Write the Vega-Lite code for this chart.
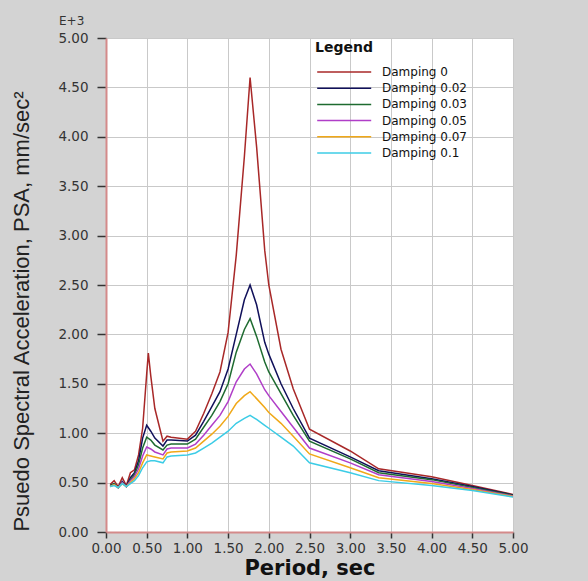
{
"$schema": "https://vega.github.io/schema/vega-lite/v6.json",
"autosize": {"type": "none"},
"width": 407,
"height": 494,
"padding": {"left": 106, "top": 38, "right": 75, "bottom": 49},
"background": "#d3d3d3",
"view": {"fill": "white", "stroke": null},
"title": {"text": "E+3", "anchor": "start", "frame": "group", "dx": -47, "offset": 3, "font": "DejaVu Sans", "fontSize": 12, "fontWeight": "normal", "color": "#333"},
"datasets": {
"psa": [
{"t":0.05,"s":"Damping 0","v":0.48},{"t":0.05,"s":"Damping 0.02","v":0.47},{"t":0.05,"s":"Damping 0.03","v":0.47},{"t":0.05,"s":"Damping 0.05","v":0.46},{"t":0.05,"s":"Damping 0.07","v":0.46},{"t":0.05,"s":"Damping 0.1","v":0.46},
{"t":0.1,"s":"Damping 0","v":0.52},{"t":0.1,"s":"Damping 0.02","v":0.49},{"t":0.1,"s":"Damping 0.03","v":0.49},{"t":0.1,"s":"Damping 0.05","v":0.48},{"t":0.1,"s":"Damping 0.07","v":0.48},{"t":0.1,"s":"Damping 0.1","v":0.47},
{"t":0.15,"s":"Damping 0","v":0.46},{"t":0.15,"s":"Damping 0.02","v":0.45},{"t":0.15,"s":"Damping 0.03","v":0.45},{"t":0.15,"s":"Damping 0.05","v":0.45},{"t":0.15,"s":"Damping 0.07","v":0.45},{"t":0.15,"s":"Damping 0.1","v":0.45},
{"t":0.2,"s":"Damping 0","v":0.55},{"t":0.2,"s":"Damping 0.02","v":0.51},{"t":0.2,"s":"Damping 0.03","v":0.5},{"t":0.2,"s":"Damping 0.05","v":0.5},{"t":0.2,"s":"Damping 0.07","v":0.49},{"t":0.2,"s":"Damping 0.1","v":0.49},
{"t":0.25,"s":"Damping 0","v":0.47},{"t":0.25,"s":"Damping 0.02","v":0.46},{"t":0.25,"s":"Damping 0.03","v":0.46},{"t":0.25,"s":"Damping 0.05","v":0.46},{"t":0.25,"s":"Damping 0.07","v":0.46},{"t":0.25,"s":"Damping 0.1","v":0.46},
{"t":0.3,"s":"Damping 0","v":0.6},{"t":0.3,"s":"Damping 0.02","v":0.55},{"t":0.3,"s":"Damping 0.03","v":0.53},{"t":0.3,"s":"Damping 0.05","v":0.52},{"t":0.3,"s":"Damping 0.07","v":0.5},{"t":0.3,"s":"Damping 0.1","v":0.49},
{"t":0.35,"s":"Damping 0","v":0.63},{"t":0.35,"s":"Damping 0.02","v":0.6},{"t":0.35,"s":"Damping 0.03","v":0.58},{"t":0.35,"s":"Damping 0.05","v":0.56},{"t":0.35,"s":"Damping 0.07","v":0.54},{"t":0.35,"s":"Damping 0.1","v":0.52},
{"t":0.4,"s":"Damping 0","v":0.78},{"t":0.4,"s":"Damping 0.02","v":0.72},{"t":0.4,"s":"Damping 0.03","v":0.68},{"t":0.4,"s":"Damping 0.05","v":0.64},{"t":0.4,"s":"Damping 0.07","v":0.6},{"t":0.4,"s":"Damping 0.1","v":0.57},
{"t":0.45,"s":"Damping 0","v":1.05},{"t":0.45,"s":"Damping 0.02","v":0.95},{"t":0.45,"s":"Damping 0.03","v":0.85},{"t":0.45,"s":"Damping 0.05","v":0.77},{"t":0.45,"s":"Damping 0.07","v":0.7},{"t":0.45,"s":"Damping 0.1","v":0.65},
{"t":0.5,"s":"Damping 0","v":1.6},{"t":0.5,"s":"Damping 0.02","v":1.08},{"t":0.5,"s":"Damping 0.03","v":0.96},{"t":0.5,"s":"Damping 0.05","v":0.86},{"t":0.5,"s":"Damping 0.07","v":0.78},{"t":0.5,"s":"Damping 0.1","v":0.71},
{"t":0.52,"s":"Damping 0","v":1.81},
{"t":0.55,"s":"Damping 0","v":1.58},{"t":0.55,"s":"Damping 0.02","v":1.02},{"t":0.55,"s":"Damping 0.03","v":0.93},{"t":0.55,"s":"Damping 0.05","v":0.84},{"t":0.55,"s":"Damping 0.07","v":0.77},{"t":0.55,"s":"Damping 0.1","v":0.72},
{"t":0.6,"s":"Damping 0","v":1.25},{"t":0.6,"s":"Damping 0.02","v":0.95},{"t":0.6,"s":"Damping 0.03","v":0.88},{"t":0.6,"s":"Damping 0.05","v":0.81},{"t":0.6,"s":"Damping 0.07","v":0.76},{"t":0.6,"s":"Damping 0.1","v":0.72},
{"t":0.7,"s":"Damping 0","v":0.92},{"t":0.7,"s":"Damping 0.02","v":0.87},{"t":0.7,"s":"Damping 0.03","v":0.83},{"t":0.7,"s":"Damping 0.05","v":0.78},{"t":0.7,"s":"Damping 0.07","v":0.74},{"t":0.7,"s":"Damping 0.1","v":0.7},
{"t":0.75,"s":"Damping 0","v":0.97},{"t":0.75,"s":"Damping 0.02","v":0.93},{"t":0.75,"s":"Damping 0.03","v":0.88},{"t":0.75,"s":"Damping 0.05","v":0.84},{"t":0.75,"s":"Damping 0.07","v":0.8},{"t":0.75,"s":"Damping 0.1","v":0.76},
{"t":0.8,"s":"Damping 0","v":0.96},{"t":0.8,"s":"Damping 0.02","v":0.93},{"t":0.8,"s":"Damping 0.03","v":0.89},{"t":0.8,"s":"Damping 0.05","v":0.85},{"t":0.8,"s":"Damping 0.07","v":0.81},{"t":0.8,"s":"Damping 0.1","v":0.77},
{"t":1.0,"s":"Damping 0","v":0.94},{"t":1.0,"s":"Damping 0.02","v":0.92},{"t":1.0,"s":"Damping 0.03","v":0.89},{"t":1.0,"s":"Damping 0.05","v":0.85},{"t":1.0,"s":"Damping 0.07","v":0.82},{"t":1.0,"s":"Damping 0.1","v":0.78},
{"t":1.1,"s":"Damping 0","v":1.02},{"t":1.1,"s":"Damping 0.02","v":0.98},{"t":1.1,"s":"Damping 0.03","v":0.94},{"t":1.1,"s":"Damping 0.05","v":0.89},{"t":1.1,"s":"Damping 0.07","v":0.85},{"t":1.1,"s":"Damping 0.1","v":0.8},
{"t":1.2,"s":"Damping 0","v":1.2},{"t":1.2,"s":"Damping 0.02","v":1.12},{"t":1.2,"s":"Damping 0.03","v":1.06},{"t":1.2,"s":"Damping 0.05","v":0.98},{"t":1.2,"s":"Damping 0.07","v":0.92},{"t":1.2,"s":"Damping 0.1","v":0.85},
{"t":1.3,"s":"Damping 0","v":1.4},{"t":1.3,"s":"Damping 0.02","v":1.27},{"t":1.3,"s":"Damping 0.03","v":1.18},{"t":1.3,"s":"Damping 0.05","v":1.08},{"t":1.3,"s":"Damping 0.07","v":0.99},{"t":1.3,"s":"Damping 0.1","v":0.9},
{"t":1.4,"s":"Damping 0","v":1.62},{"t":1.4,"s":"Damping 0.02","v":1.42},{"t":1.4,"s":"Damping 0.03","v":1.32},{"t":1.4,"s":"Damping 0.05","v":1.18},{"t":1.4,"s":"Damping 0.07","v":1.07},{"t":1.4,"s":"Damping 0.1","v":0.96},
{"t":1.5,"s":"Damping 0","v":2.02},{"t":1.5,"s":"Damping 0.02","v":1.65},{"t":1.5,"s":"Damping 0.03","v":1.5},{"t":1.5,"s":"Damping 0.05","v":1.32},{"t":1.5,"s":"Damping 0.07","v":1.17},{"t":1.5,"s":"Damping 0.1","v":1.02},
{"t":1.6,"s":"Damping 0","v":2.8},{"t":1.6,"s":"Damping 0.02","v":2.0},{"t":1.6,"s":"Damping 0.03","v":1.82},{"t":1.6,"s":"Damping 0.05","v":1.52},{"t":1.6,"s":"Damping 0.07","v":1.3},{"t":1.6,"s":"Damping 0.1","v":1.1},
{"t":1.7,"s":"Damping 0","v":3.8},{"t":1.7,"s":"Damping 0.02","v":2.35},{"t":1.7,"s":"Damping 0.03","v":2.05},{"t":1.7,"s":"Damping 0.05","v":1.65},{"t":1.7,"s":"Damping 0.07","v":1.38},{"t":1.7,"s":"Damping 0.1","v":1.15},
{"t":1.77,"s":"Damping 0","v":4.6},{"t":1.77,"s":"Damping 0.02","v":2.5},{"t":1.77,"s":"Damping 0.03","v":2.16},{"t":1.77,"s":"Damping 0.05","v":1.7},{"t":1.77,"s":"Damping 0.07","v":1.42},{"t":1.77,"s":"Damping 0.1","v":1.18},
{"t":1.85,"s":"Damping 0","v":3.9},{"t":1.85,"s":"Damping 0.02","v":2.3},{"t":1.85,"s":"Damping 0.03","v":1.98},{"t":1.85,"s":"Damping 0.05","v":1.6},{"t":1.85,"s":"Damping 0.07","v":1.35},{"t":1.85,"s":"Damping 0.1","v":1.14},
{"t":1.95,"s":"Damping 0","v":2.85},{"t":1.95,"s":"Damping 0.02","v":1.92},{"t":1.95,"s":"Damping 0.03","v":1.72},{"t":1.95,"s":"Damping 0.05","v":1.44},{"t":1.95,"s":"Damping 0.07","v":1.26},{"t":1.95,"s":"Damping 0.1","v":1.08},
{"t":2.0,"s":"Damping 0","v":2.5},{"t":2.0,"s":"Damping 0.02","v":1.8},{"t":2.0,"s":"Damping 0.03","v":1.62},{"t":2.0,"s":"Damping 0.05","v":1.38},{"t":2.0,"s":"Damping 0.07","v":1.21},{"t":2.0,"s":"Damping 0.1","v":1.05},
{"t":2.15,"s":"Damping 0","v":1.85},{"t":2.15,"s":"Damping 0.02","v":1.5},{"t":2.15,"s":"Damping 0.03","v":1.4},{"t":2.15,"s":"Damping 0.05","v":1.22},{"t":2.15,"s":"Damping 0.07","v":1.1},{"t":2.15,"s":"Damping 0.1","v":0.96},
{"t":2.3,"s":"Damping 0","v":1.45},{"t":2.3,"s":"Damping 0.02","v":1.25},{"t":2.3,"s":"Damping 0.03","v":1.18},{"t":2.3,"s":"Damping 0.05","v":1.06},{"t":2.3,"s":"Damping 0.07","v":0.97},{"t":2.3,"s":"Damping 0.1","v":0.87},
{"t":2.5,"s":"Damping 0","v":1.04},{"t":2.5,"s":"Damping 0.02","v":0.95},{"t":2.5,"s":"Damping 0.03","v":0.92},{"t":2.5,"s":"Damping 0.05","v":0.85},{"t":2.5,"s":"Damping 0.07","v":0.79},{"t":2.5,"s":"Damping 0.1","v":0.7},
{"t":3.0,"s":"Damping 0","v":0.82},{"t":3.0,"s":"Damping 0.02","v":0.76},{"t":3.0,"s":"Damping 0.03","v":0.74},{"t":3.0,"s":"Damping 0.05","v":0.7},{"t":3.0,"s":"Damping 0.07","v":0.65},{"t":3.0,"s":"Damping 0.1","v":0.6},
{"t":3.35,"s":"Damping 0","v":0.64},{"t":3.35,"s":"Damping 0.02","v":0.62},{"t":3.35,"s":"Damping 0.03","v":0.6},{"t":3.35,"s":"Damping 0.05","v":0.58},{"t":3.35,"s":"Damping 0.07","v":0.55},{"t":3.35,"s":"Damping 0.1","v":0.52},
{"t":4.0,"s":"Damping 0","v":0.56},{"t":4.0,"s":"Damping 0.02","v":0.54},{"t":4.0,"s":"Damping 0.03","v":0.53},{"t":4.0,"s":"Damping 0.05","v":0.51},{"t":4.0,"s":"Damping 0.07","v":0.49},{"t":4.0,"s":"Damping 0.1","v":0.47},
{"t":4.5,"s":"Damping 0","v":0.47},{"t":4.5,"s":"Damping 0.02","v":0.46},{"t":4.5,"s":"Damping 0.03","v":0.45},{"t":4.5,"s":"Damping 0.05","v":0.44},{"t":4.5,"s":"Damping 0.07","v":0.43},{"t":4.5,"s":"Damping 0.1","v":0.42},
{"t":5.0,"s":"Damping 0","v":0.38},{"t":5.0,"s":"Damping 0.02","v":0.375},{"t":5.0,"s":"Damping 0.03","v":0.37},{"t":5.0,"s":"Damping 0.05","v":0.365},{"t":5.0,"s":"Damping 0.07","v":0.36},{"t":5.0,"s":"Damping 0.1","v":0.355}
]
},
"data": {"name": "psa"},
"mark": {"type": "line", "strokeWidth": 1.5, "clip": true},
"encoding": {
"x": {"field": "t", "type": "quantitative",
"scale": {"domain": [0, 5], "nice": false, "zero": false},
"axis": {"title": "Period, sec", "values": [0,0.5,1,1.5,2,2.5,3,3.5,4,4.5,5], "format": ".2f",
"domainColor": "#d48a8a", "domainWidth": 2, "tickColor": "#333", "tickSize": 6, "tickWidth": 1.5,
"labelFont": "DejaVu Sans", "labelFontSize": 13.5, "labelColor": "#333", "labelPadding": 3, "labelFlush": false, "labelOverlap": false,
"titleFont": "DejaVu Sans", "titleFontSize": 21, "titleFontWeight": "bold", "titleColor": "#111", "titlePadding": 3,
"grid": true, "gridColor": "#c9c9c9", "gridWidth": 1}},
"y": {"field": "v", "type": "quantitative",
"scale": {"domain": [0, 5], "nice": false},
"axis": {"title": "Psuedo Spectral Acceleration, PSA, mm/sec²", "values": [0,0.5,1,1.5,2,2.5,3,3.5,4,4.5,5], "format": ".2f",
"domainColor": "#d48a8a", "domainWidth": 2, "tickColor": "#333", "tickSize": 9, "tickWidth": 1.5,
"labelFont": "DejaVu Sans", "labelFontSize": 13.5, "labelColor": "#333", "labelPadding": 9, "labelFlush": false, "labelOverlap": false,
"titleFont": "Liberation Sans", "titleFontSize": 22, "titleFontWeight": "normal", "titleColor": "#222", "titlePadding": 24, "titleY": 273,
"grid": true, "gridColor": "#c9c9c9", "gridWidth": 1}},
"color": {"field": "s", "type": "nominal",
"scale": {"domain": ["Damping 0","Damping 0.02","Damping 0.03","Damping 0.05","Damping 0.07","Damping 0.1"],
"range": ["#a82828","#10105a","#1e6b30","#b03ec8","#f0a818","#3ccce6"]},
"legend": {"title": "Legend", "orient": "none", "legendX": 209, "legendY": 3,
"titleFont": "DejaVu Sans", "titleFontSize": 14, "titleFontWeight": "bold", "titleColor": "#111", "titlePadding": 10,
"symbolType": "M-0.8,0H8.2", "symbolSize": 144, "symbolStrokeWidth": 1.5,
"labelFont": "DejaVu Sans", "labelFontSize": 12, "labelColor": "#111", "labelOffset": 53, "rowPadding": 3.2}}
}
}
